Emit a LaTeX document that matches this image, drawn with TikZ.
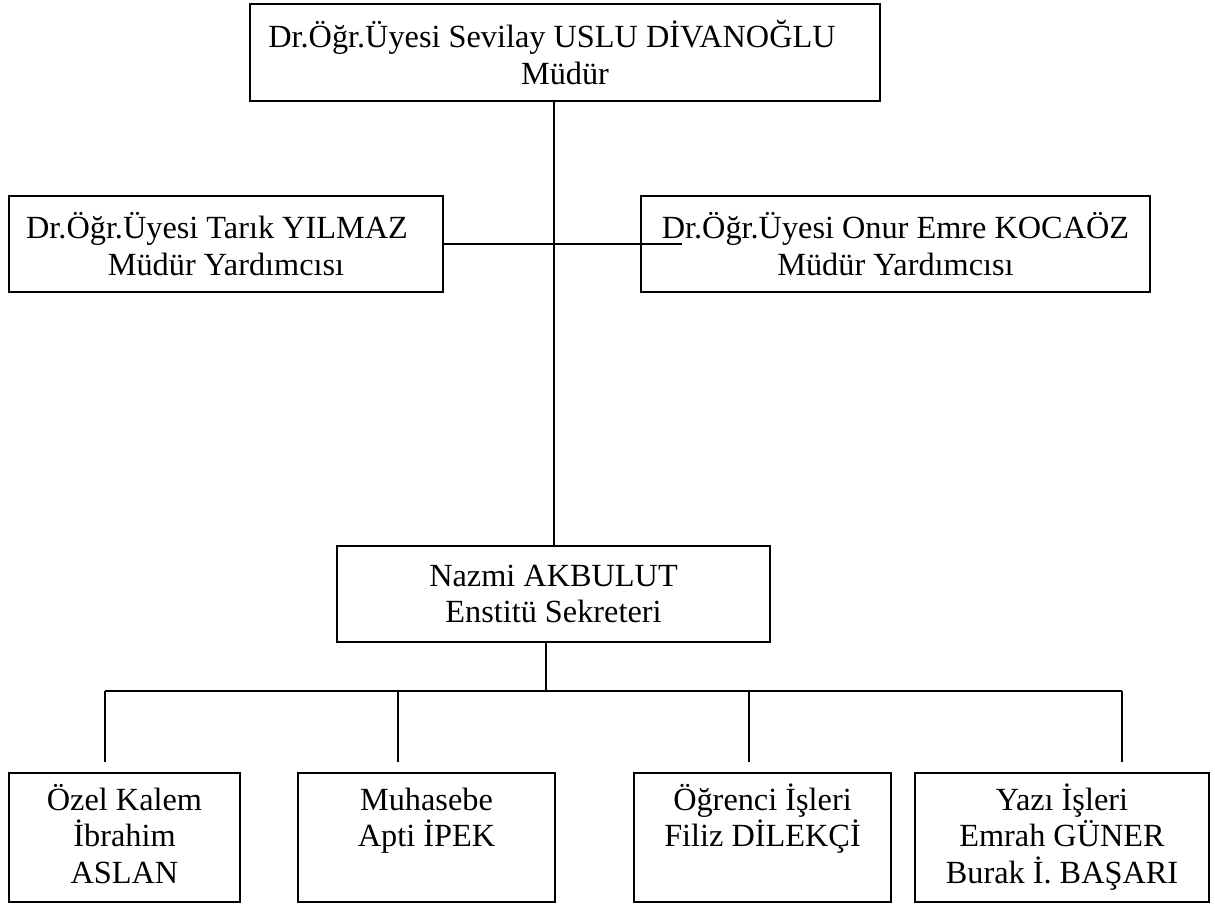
\documentclass[tikz,border=0pt]{standalone}
\usepackage{fontspec}
\setmainfont{Liberation Serif}
\begin{document}
\begin{tikzpicture}[x=1pt,y=-1pt,
  kutu/.style={draw,line width=2pt,inner sep=0pt,align=center,
    font=\fontsize{32.3}{36.7}\selectfont},
  altkutu/.style={kutu,minimum height=129pt,
    text height={37pt+(#1-1)*36.7pt},text depth={92pt-(#1-1)*36.7pt}},
  hat/.style={line width=1.8pt}]
  \useasboundingbox (0,0) rectangle (1215,905);

  % yonetim
  \node[kutu,minimum width=630pt,minimum height=97pt] (mudur) at (565,52.5)
    {Dr.Öğr.Üyesi Sevilay USLU DİVANOĞLU\hspace*{26pt}\\Müdür};
  \node[kutu,minimum width=434pt,minimum height=96pt] (yrd1) at (226,244)
    {Dr.Öğr.Üyesi Tarık YILMAZ\hspace*{18pt}\\Müdür Yardımcısı};
  \node[kutu,minimum width=509pt,minimum height=96pt] (yrd2) at (895.5,244)
    {Dr.Öğr.Üyesi Onur Emre KOCAÖZ\\Müdür Yardımcısı};
  \node[kutu,minimum width=433pt,minimum height=96pt] (sekreter) at (553.5,594)
    {Nazmi AKBULUT\\Enstitü Sekreteri};

  % birimler
  \node[altkutu=3,minimum width=231pt] (ozel) at (124.5,837.5)
    {Özel Kalem\\İbrahim\\ASLAN};
  \node[altkutu=2,minimum width=257pt] (muhasebe) at (426.5,837.5)
    {Muhasebe\\Apti İPEK};
  \node[altkutu=2,minimum width=257pt] (ogrenci) at (762.5,837.5)
    {Öğrenci İşleri\\Filiz DİLEKÇİ};
  \node[altkutu=3,minimum width=294pt] (yazi) at (1062,837.5)
    {Yazı İşleri\\Emrah GÜNER\\Burak İ. BAŞARI};

  % baglantilar
  \coordinate (govde) at (554,101);
  \draw[hat] (govde) -- (govde |- sekreter.north);
  \coordinate (yrduc) at (682,244);
  \draw[hat] (yrd1.east) -- (yrduc);
  \coordinate (bara) at (546,691);
  \draw[hat] (sekreter.south -| bara) -- (bara);
  \foreach \x/\n in {105/1,398/2,749/3,1122/4}
    \coordinate (ayak\n) at (\x,762);
  \draw[hat] (ayak1 |- bara) -- (ayak4 |- bara);
  \foreach \n in {1,...,4}
    \draw[hat] (ayak\n |- bara) -- (ayak\n);
\end{tikzpicture}
\end{document}
